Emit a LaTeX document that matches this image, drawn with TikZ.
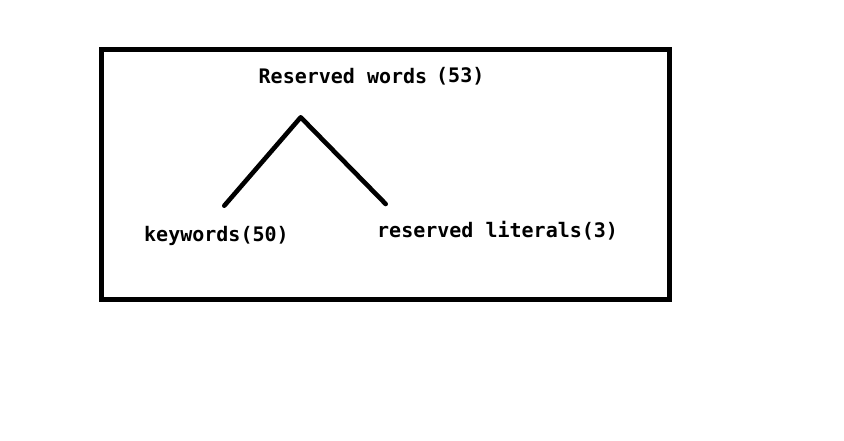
\documentclass[tikz,border=0pt]{standalone}
\usepackage{fontspec}
\setmonofont{DejaVu Sans Mono}
\begin{document}
\begin{tikzpicture}[x=1pt,y=-1pt,
  lbl/.style={inner sep=0pt,anchor=base west,font=\fontsize{20}{23}\selectfont\ttfamily\bfseries},
  edge/.style={line width=4.6pt,line cap=round,line join=round},
  frame/.style={line width=5pt}]
\useasboundingbox[fill=white] (0,0) rectangle (844,440);
\coordinate (tl) at (101.5,49);
\coordinate (br) at (669.5,299.5);
\draw[frame] (tl) rectangle (br);
\node[lbl] (root) at (258.5,83.5) {Reserved words};
\node[lbl] (cnt) at (436,82) {(53)};
\node[lbl] (kw) at (144,241.5) {keywords(50)};
\node[lbl] (rl) at (377,237.5) {reserved literals(3)};
\coordinate (apex) at (300.7,117.3);
\coordinate (kwend) at (224.3,205.7);
\coordinate (rlend) at (385.7,204);
\draw[edge] (kwend) -- (apex) -- (rlend);
\end{tikzpicture}
\end{document}
